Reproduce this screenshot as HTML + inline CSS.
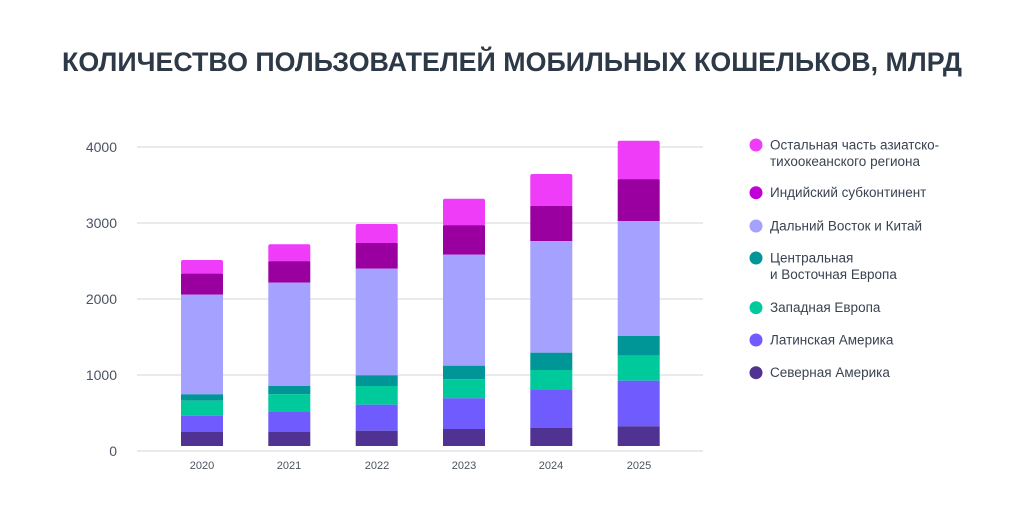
<!DOCTYPE html>
<html><head><meta charset="utf-8"><style>
body{margin:0;background:#fff;width:1024px;height:518px;overflow:hidden}
svg text{font-family:"Liberation Sans","DejaVu Sans",sans-serif}
</style></head><body>
<svg width="1024" height="518" xmlns="http://www.w3.org/2000/svg">
<text x="512" y="71" text-anchor="middle" font-size="26.5" font-weight="bold" fill="#2e3947" textLength="900" lengthAdjust="spacingAndGlyphs">КОЛИЧЕСТВО ПОЛЬЗОВАТЕЛЕЙ МОБИЛЬНЫХ КОШЕЛЬКОВ, МЛРД</text>
<g stroke="#e4e4e6" stroke-width="1.5">
<line x1="137" y1="147" x2="703" y2="147"/>
<line x1="137" y1="223" x2="703" y2="223"/>
<line x1="137" y1="299" x2="703" y2="299"/>
<line x1="137" y1="375" x2="703" y2="375"/>
<line x1="137" y1="451" x2="703" y2="451"/>
</g>
<g font-size="14" fill="#4a5362" text-anchor="end">
<text x="117" y="152">4000</text>
<text x="117" y="228">3000</text>
<text x="117" y="304">2000</text>
<text x="117" y="380">1000</text>
<text x="117" y="456">0</text>
</g>
<g font-size="11" fill="#4a5362" text-anchor="middle">
<text x="202" y="469">2020</text><text x="289" y="469">2021</text><text x="377" y="469">2022</text>
<text x="464" y="469">2023</text><text x="551" y="469">2024</text><text x="639" y="469">2025</text>
</g>
<g font-size="13.5" fill="#3a4352">
<circle cx="756" cy="145" r="6.5" fill="#ee3cf8"/><text x="770" y="149.5">Остальная часть азиатско-</text><text x="770" y="166">тихоокеанского региона</text>
<circle cx="756" cy="192.7" r="6.5" fill="#c000d6"/><text x="770" y="197">Индийский субконтинент</text>
<circle cx="756" cy="226" r="6.5" fill="#a4a1ff"/><text x="770" y="230.5">Дальний Восток и Китай</text>
<circle cx="756" cy="258" r="6.5" fill="#009597"/><text x="770" y="262.5">Центральная</text><text x="770" y="279">и Восточная Европа</text>
<circle cx="756" cy="307.7" r="6.5" fill="#00c99c"/><text x="770" y="312">Западная Европа</text>
<circle cx="756" cy="340" r="6.5" fill="#705bff"/><text x="770" y="344.5">Латинская Америка</text>
<circle cx="756" cy="372.7" r="6.5" fill="#503293"/><text x="770" y="377">Северная Америка</text>
</g>
<g>
<rect x="181" y="260" width="42" height="14" fill="#ee3cf8" rx="2"/>
<rect x="181" y="273.7" width="42" height="21" fill="#9a00a0"/>
<rect x="181" y="294.7" width="42" height="99.6" fill="#a4a1ff"/>
<rect x="181" y="394.3" width="42" height="6.4" fill="#009597"/>
<rect x="181" y="400.7" width="42" height="15" fill="#00c99c"/>
<rect x="181" y="415.7" width="42" height="16.3" fill="#705bff"/>
<rect x="181" y="432" width="42" height="14" fill="#503293"/>
<rect x="268.3" y="244.3" width="42" height="17.5" fill="#ee3cf8" rx="2"/>
<rect x="268.3" y="261.3" width="42" height="21.4" fill="#9a00a0"/>
<rect x="268.3" y="282.7" width="42" height="103.3" fill="#a4a1ff"/>
<rect x="268.3" y="386" width="42" height="8.3" fill="#009597"/>
<rect x="268.3" y="394.3" width="42" height="17" fill="#00c99c"/>
<rect x="268.3" y="411.3" width="42" height="20.7" fill="#705bff"/>
<rect x="268.3" y="432" width="42" height="14" fill="#503293"/>
<rect x="355.7" y="224" width="42" height="19.5" fill="#ee3cf8" rx="2"/>
<rect x="355.7" y="243" width="42" height="25.7" fill="#9a00a0"/>
<rect x="355.7" y="268.7" width="42" height="106.6" fill="#a4a1ff"/>
<rect x="355.7" y="375.3" width="42" height="10.7" fill="#009597"/>
<rect x="355.7" y="386" width="42" height="18.7" fill="#00c99c"/>
<rect x="355.7" y="404.7" width="42" height="26" fill="#705bff"/>
<rect x="355.7" y="430.7" width="42" height="15.3" fill="#503293"/>
<rect x="443" y="198.7" width="42" height="27" fill="#ee3cf8" rx="2"/>
<rect x="443" y="225.3" width="42" height="29.4" fill="#9a00a0"/>
<rect x="443" y="254.7" width="42" height="111" fill="#a4a1ff"/>
<rect x="443" y="365.7" width="42" height="13.6" fill="#009597"/>
<rect x="443" y="379.3" width="42" height="19" fill="#00c99c"/>
<rect x="443" y="398.3" width="42" height="30.7" fill="#705bff"/>
<rect x="443" y="429" width="42" height="17" fill="#503293"/>
<rect x="530.3" y="174" width="42" height="32.5" fill="#ee3cf8" rx="2"/>
<rect x="530.3" y="206" width="42" height="35" fill="#9a00a0"/>
<rect x="530.3" y="241" width="42" height="111.7" fill="#a4a1ff"/>
<rect x="530.3" y="352.7" width="42" height="17.3" fill="#009597"/>
<rect x="530.3" y="370" width="42" height="20" fill="#00c99c"/>
<rect x="530.3" y="390" width="42" height="38" fill="#705bff"/>
<rect x="530.3" y="428" width="42" height="18" fill="#503293"/>
<rect x="617.7" y="140.7" width="42" height="39" fill="#ee3cf8" rx="2"/>
<rect x="617.7" y="179.3" width="42" height="41.7" fill="#9a00a0"/>
<rect x="617.7" y="221" width="42" height="115" fill="#a4a1ff"/>
<rect x="617.7" y="336" width="42" height="19.7" fill="#009597"/>
<rect x="617.7" y="355.7" width="42" height="25" fill="#00c99c"/>
<rect x="617.7" y="380.7" width="42" height="45.6" fill="#705bff"/>
<rect x="617.7" y="426.3" width="42" height="19.7" fill="#503293"/>
</g>
</svg>
</body></html>
